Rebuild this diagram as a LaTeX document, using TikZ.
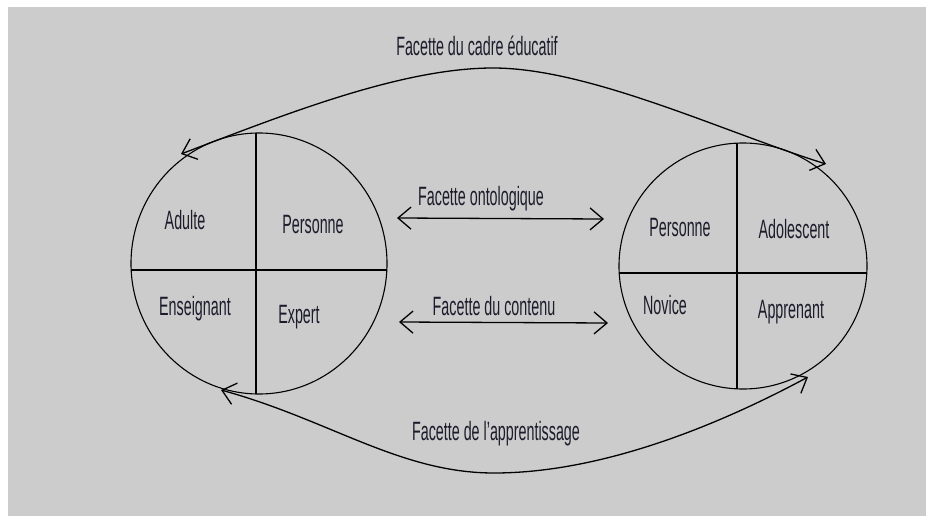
\documentclass[tikz,border=0pt]{standalone}
\usepackage{fontspec}
\setmainfont{Liberation Sans}[FakeStretch=0.54]
\usetikzlibrary{shapes.geometric,arrows.meta}
\definecolor{bggray}{HTML}{CCCCCC}
\definecolor{ink}{HTML}{1C1C2C}
\tikzset{
  x=1pt, y=-1pt,
  lbl/.style={font=\fontsize{26.5}{30}\selectfont, text=ink, anchor=base, inner sep=0pt},
  circ/.style={ellipse, draw=black, line width=1.1pt, inner sep=0pt},
  divider/.style={draw=black, line width=1.5pt},
  facet/.style={draw=black, line width=1.3pt, {Straight Barb[length=13pt,width=22pt]}-{Straight Barb[length=13pt,width=22pt]}}
}
\begin{document}
\begin{tikzpicture}
\useasboundingbox (0,0) rectangle (928,516);
\fill[white] (0,0) rectangle (928,516);
\fill[bggray] (8,7) rectangle (926,516);

% circles
\node[circ, minimum width=256pt, minimum height=261pt] (L) at (259,263.5) {};
\node[circ, minimum width=248pt, minimum height=246pt] (R) at (743,266) {};

% dividers
\coordinate (Lw) at (131,270); \coordinate (Le) at (387,270);
\coordinate (Ln) at (256,133); \coordinate (Ls) at (256,394);
\coordinate (Rw) at (619,273); \coordinate (Re) at (867,273);
\coordinate (Rn) at (737,143); \coordinate (Rs) at (737,389);
\draw[divider] (Lw) -- (Le);
\draw[divider] (Ln) -- (Ls);
\draw[divider] (Rw) -- (Re);
\draw[divider] (Rn) -- (Rs);

% quadrant labels
\node[lbl] (adulte) at (185,229) {Adulte};
\node[lbl] (pers1) at (313,233) {Personne};
\node[lbl] (ens) at (195,315) {Enseignant};
\node[lbl] (expert) at (299,323) {Expert};
\node[lbl] (pers2) at (680,236) {Personne};
\node[lbl] (ado) at (794,238) {Adolescent};
\node[lbl] (novice) at (665,314) {Novice};
\node[lbl] (appr) at (791,318) {Apprenant};

% middle facets
\node[lbl] (onto) at (481,205) {Facette ontologique};
\node[lbl] (cont) at (494,315) {Facette du contenu};
\coordinate (o1) at (397,218); \coordinate (o2) at (604,219);
\coordinate (c1) at (399,322); \coordinate (c2) at (608,323);
\draw[facet] (o1) -- (o2);
\draw[facet] (c1) -- (c2);

% top facet
\node[lbl] (cadre) at (477,56) {Facette du cadre éducatif};
\coordinate (t1) at (181,154); \coordinate (tp) at (493,68); \coordinate (t2) at (826,164);
\draw[facet] (t1) .. controls (281,116) and (400,68) .. (tp)
  .. controls (590,68) and (726,133) .. (t2);

% bottom facet
\node[lbl] (appren) at (496,440) {Facette de l'apprentissage};
\coordinate (b1) at (221,390); \coordinate (bp) at (494,473); \coordinate (b2) at (808,377);
\draw[facet] (b1) .. controls (330,420) and (400,473) .. (bp)
  .. controls (590,473) and (700,435) .. (b2);
\end{tikzpicture}
\end{document}
